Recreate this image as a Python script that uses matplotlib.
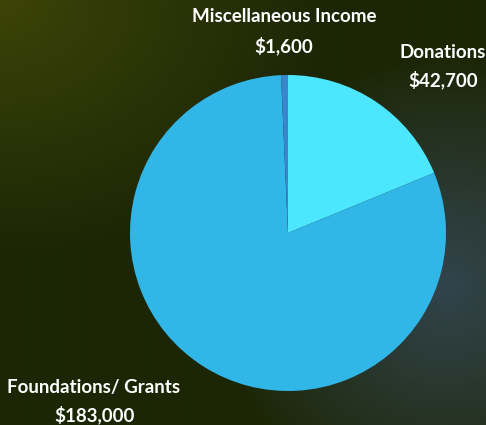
import numpy as np
import matplotlib.pyplot as plt

labels = ["Donations", "Foundations/ Grants", "Miscellaneous Income"]
values = [42700, 183000, 1600]
colors = ["#4de6ff", "#31b6e8", "#3a86cc"]

plt.rcParams['font.family'] = ['Lato', 'DejaVu Sans']

W, H = 486, 425
fig = plt.figure(figsize=(W / 100, H / 100), dpi=100)

# background: dark green with olive glow top-left and blue-grey glow right
yy, xx = np.mgrid[0:H, 0:W]
base = np.array([0x1c, 0x26, 0x05]) / 255.0
olive = np.array([0x3c, 0x44, 0x08]) / 255.0
grey = np.array([0x32, 0x44, 0x4c]) / 255.0
d1 = np.sqrt(xx ** 2 + (yy * 1.3) ** 2) / 330.0
w1 = np.clip(1 - d1, 0, 1) ** 1.0
d2 = np.sqrt((xx - 445) ** 2 + (yy - 285) ** 2) / 230.0
w2 = np.clip(1 - d2, 0, 1) ** 0.9
img = base[None, None, :] * np.ones((H, W, 1))
img = img + (olive - base) * w1[..., None]
img = img + (grey - img) * w2[..., None]
bg = fig.add_axes([0, 0, 1, 1])
bg.imshow(np.clip(img, 0, 1), aspect='auto', extent=[0, W, H, 0])
bg.axis('off')

# pie axes: centre (288, 233), radius 158 px
cx, cy, r = 288, 233, 158
ax = fig.add_axes([(cx - r) / W, 1 - (cy + r) / H, 2 * r / W, 2 * r / H])
ax.pie(values, colors=colors, startangle=90, counterclock=False,
       wedgeprops=dict(linewidth=0))
ax.set_xlim(-1, 1)
ax.set_ylim(-1, 1)
ax.set_aspect('auto')
ax.axis('off')

txt = dict(color='white', fontsize=13.5, fontweight='bold', ha='center', va='center')
fig.text(284 / W, 1 - 17 / H, "Miscellaneous Income", **txt)
fig.text(284 / W, 1 - 46 / H, "$1,600", **txt)
fig.text(443 / W, 1 - 52 / H, "Donations", **txt)
fig.text(443 / W, 1 - 80 / H, "$42,700", **txt)
fig.text(94 / W, 1 - 387 / H, "Foundations/ Grants", **txt)
fig.text(94 / W, 1 - 415 / H, "$183,000", **txt)

fig.savefig("out.png", dpi=100)
